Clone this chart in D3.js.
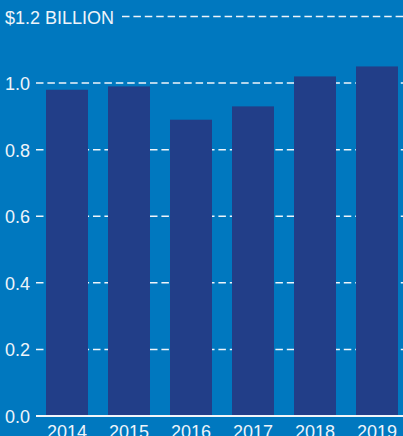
<!DOCTYPE html>
<html><head><meta charset="utf-8">
<script src="https://cdn.jsdelivr.net/npm/d3@7"></script>
<style>
html,body{margin:0;padding:0;background:#0078BF;overflow:hidden}
svg{display:block}
text{font-family:"Liberation Sans",Arial,sans-serif;fill:#EEF4FA;font-size:18px}
</style></head><body>
<svg id="c" width="403" height="436"></svg>
<script>
const years = ["2014","2015","2016","2017","2018","2019"];
const values = [0.98, 0.99, 0.89, 0.93, 1.02, 1.05];
const ticks = [0, 0.2, 0.4, 0.6, 0.8, 1.0, 1.2];
const tickLabels = ["0.0","0.2","0.4","0.6","0.8","1.0","$1.2 BILLION"];

const W = 403, H = 436;
const svg = d3.select("#c");
svg.append("rect").attr("width", W).attr("height", H).attr("fill", "#0078BF");

const pi = 20/62;
const x = d3.scaleBand().domain(years).range([36, 408]).paddingInner(pi).paddingOuter(pi/2);
const y = d3.scaleLinear().domain([0, 1.2]).range([416, 16.5]);

// grid lines
ticks.forEach((t, i) => {
  if (t === 0) return;
  const x0 = (i === ticks.length - 1) ? 122 : 36;
  svg.append("line")
    .attr("x1", x0).attr("x2", W)
    .attr("y1", y(t)).attr("y2", y(t))
    .attr("stroke", "#EEF4FA").attr("stroke-width", 1.5)
    .attr("stroke-dasharray", "7.5,3.9");
});

// bars
svg.selectAll("rect.bar").data(values).enter().append("rect")
  .attr("class", "bar")
  .attr("x", (d, i) => x(years[i]))
  .attr("width", x.bandwidth())
  .attr("y", d => y(d))
  .attr("height", d => y(0) - y(d))
  .attr("fill", "#223E88");

// zero line
svg.append("line").attr("x1", 36).attr("x2", W)
  .attr("y1", y(0)).attr("y2", y(0))
  .attr("stroke", "#F2F6FA").attr("stroke-width", 2);

// y labels
ticks.forEach((t, i) => {
  svg.append("text").attr("x", 5).attr("y", y(t) + 7).text(tickLabels[i]);
});

// x labels
svg.selectAll("text.xl").data(years).enter().append("text")
  .attr("class", "xl")
  .attr("x", d => x(d) + x.bandwidth()/2)
  .attr("y", 438)
  .attr("text-anchor", "middle")
  .text(d => d);
</script>
</body></html>
